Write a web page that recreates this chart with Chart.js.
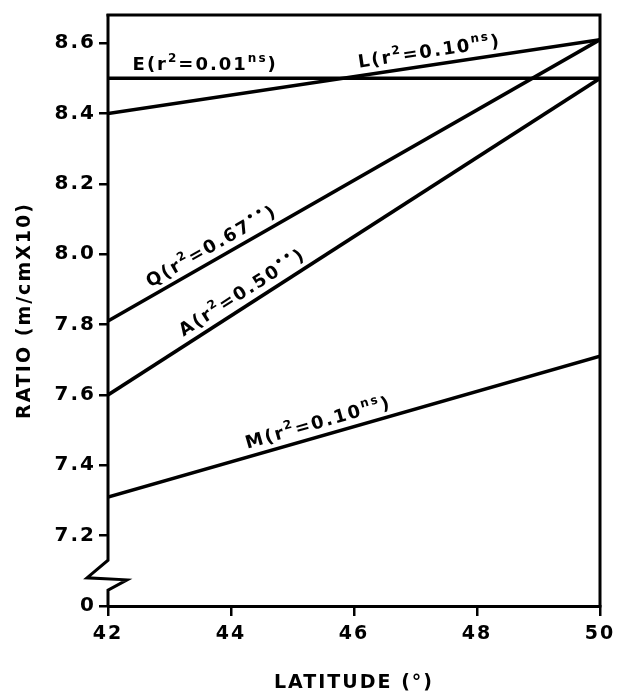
<!DOCTYPE html>
<html>
<head>
<meta charset="utf-8">
<script src="https://cdn.jsdelivr.net/npm/chart.js@4"></script>
<style>
  html, body { margin: 0; padding: 0; background: #fff; }
</style>
</head>
<body>
<canvas id="chart" width="626" height="696"></canvas>
<script>
// Data
const latitude = [42, 50];
const seriesE = [8.50, 8.50];
const seriesL = [8.40, 8.61];
const seriesQ = [7.81, 8.61];
const seriesA = [7.60, 8.50];
const seriesM = [7.31, 7.71];

const xTicks = [42, 44, 46, 48, 50];
const yTicks = [7.0, 7.2, 7.4, 7.6, 7.8, 8.0, 8.2, 8.4, 8.6];
const yTickLabels = ['0', '7.2', '7.4', '7.6', '7.8', '8.0', '8.2', '8.4', '8.6'];

// line labels: [text, isSuperscript]
const labelE = [['E(r', 0], ['2', 1], ['=0.01', 0], ['ns', 1], [')', 0]];
const labelL = [['L(r', 0], ['2', 1], ['=0.10', 0], ['ns', 1], [')', 0]];
const labelQ = [['Q(r', 0], ['2', 1], ['=0.67', 0], ['••', 1], [')', 0]];
const labelA = [['A(r', 0], ['2', 1], ['=0.50', 0], ['••', 1], [')', 0]];
const labelM = [['M(r', 0], ['2', 1], ['=0.10', 0], ['ns', 1], [')', 0]];

const FONT = '"DejaVu Sans", sans-serif';

function toPoints(ys) {
  return latitude.map((x, i) => ({ x: x, y: ys[i] }));
}

const lineLabels = [
  { data: seriesE, at: 42.4, runs: labelE },
  { data: seriesL, at: 46.1, runs: labelL },
  { data: seriesQ, at: 42.75, runs: labelQ },
  { data: seriesA, at: 43.3, runs: labelA },
  { data: seriesM, at: 44.3, runs: labelM }
];

function valueAt(ys, lat) {
  const t = (lat - latitude[0]) / (latitude[1] - latitude[0]);
  return ys[0] + (ys[1] - ys[0]) * t;
}

function drawRuns(ctx, runs) {
  let cx = 0;
  runs.forEach(([t, sup]) => {
    ctx.font = sup ? 'bold 12px ' + FONT : 'bold 18px ' + FONT;
    ctx.fillText(t, cx, sup ? -8 : 0);
    cx += ctx.measureText(t).width;
  });
}

const decor = {
  id: 'decor',
  beforeDraw(chart) {
    chart.ctx.letterSpacing = '2px';
  },
  afterDraw(chart) {
    const { ctx, chartArea: a, scales: { x, y } } = chart;
    ctx.save();
    ctx.strokeStyle = '#000';
    ctx.lineWidth = 3;
    ctx.lineCap = 'square';

    // top and right frame
    ctx.beginPath();
    ctx.moveTo(a.left, a.top);
    ctx.lineTo(a.right, a.top);
    ctx.lineTo(a.right, a.bottom);
    ctx.stroke();

    // left axis with the break symbol
    const b1 = y.getPixelForValue(7.13);
    const b2 = y.getPixelForValue(7.08);
    const b3 = y.getPixelForValue(7.045);
    ctx.lineCap = 'butt';
    ctx.beginPath();
    ctx.moveTo(a.left, a.top - 1);
    ctx.lineTo(a.left, b1);
    ctx.lineTo(a.left - 21, b2);
    ctx.lineTo(a.left + 19, b2 + 2);
    ctx.lineTo(a.left, b3);
    ctx.lineTo(a.left, a.bottom);
    ctx.stroke();

    // labels along each line
    ctx.fillStyle = '#000';
    ctx.textBaseline = 'alphabetic';
    ctx.textAlign = 'left';
    ctx.letterSpacing = '2px';
    lineLabels.forEach(lb => {
      const x0 = x.getPixelForValue(latitude[0]), x1 = x.getPixelForValue(latitude[1]);
      const y0 = y.getPixelForValue(lb.data[0]), y1 = y.getPixelForValue(lb.data[1]);
      const ang = Math.atan2(y1 - y0, x1 - x0);
      const px = x.getPixelForValue(lb.at);
      const py = y.getPixelForValue(valueAt(lb.data, lb.at));
      ctx.save();
      ctx.translate(px, py);
      ctx.rotate(ang);
      ctx.translate(0, -8);
      drawRuns(ctx, lb.runs);
      ctx.restore();
    });
    ctx.restore();
  }
};

const lineStyle = {
  borderColor: '#000',
  borderWidth: 3.5,
  pointRadius: 0,
  fill: false,
  tension: 0
};

new Chart(document.getElementById('chart'), {
  type: 'line',
  data: {
    datasets: [
      { label: 'E', data: toPoints(seriesE), ...lineStyle },
      { label: 'L', data: toPoints(seriesL), ...lineStyle },
      { label: 'Q', data: toPoints(seriesQ), ...lineStyle },
      { label: 'A', data: toPoints(seriesA), ...lineStyle },
      { label: 'M', data: toPoints(seriesM), ...lineStyle }
    ]
  },
  options: {
    responsive: false,
    animation: false,
    devicePixelRatio: 1,
    layout: { padding: { top: 11, right: 26, left: 0, bottom: 0 } },
    plugins: { legend: { display: false }, tooltip: { enabled: false } },
    scales: {
      x: {
        type: 'linear',
        min: 42,
        max: 50,
        afterBuildTicks: s => { s.ticks = xTicks.map(v => ({ value: v })); },
        afterFit: s => { s.height = 90; },
        grid: { drawOnChartArea: false, color: '#000', lineWidth: 2.5, tickLength: 10 },
        border: { display: true, color: '#000', width: 3 },
        ticks: { color: '#000', font: { family: FONT, size: 19, weight: 'bold' }, padding: 7, maxRotation: 0 },
        title: {
          display: true,
          text: 'LATITUDE (°)',
          color: '#000',
          font: { family: FONT, size: 19, weight: 'bold' },
          padding: { top: 0, bottom: 2 }
        }
      },
      y: {
        type: 'linear',
        min: 7.0,
        max: 8.68,
        afterBuildTicks: s => { s.ticks = yTicks.map(v => ({ value: v })); },
        afterFit: s => { s.width = 108; },
        grid: { drawOnChartArea: false, color: '#000', lineWidth: 2.5, tickLength: 9 },
        border: { display: false },
        ticks: {
          color: '#000',
          font: { family: FONT, size: 20, weight: 'bold' },
          padding: 3,
          callback: v => yTickLabels[yTicks.findIndex(t => Math.abs(t - v) < 1e-6)]
        },
        title: {
          display: true,
          text: 'RATIO (m/cmX10)',
          color: '#000',
          font: { family: FONT, size: 19, weight: 'bold' },
          padding: { top: 14, bottom: 0 }
        }
      }
    }
  },
  plugins: [decor]
});
</script>
</body>
</html>
